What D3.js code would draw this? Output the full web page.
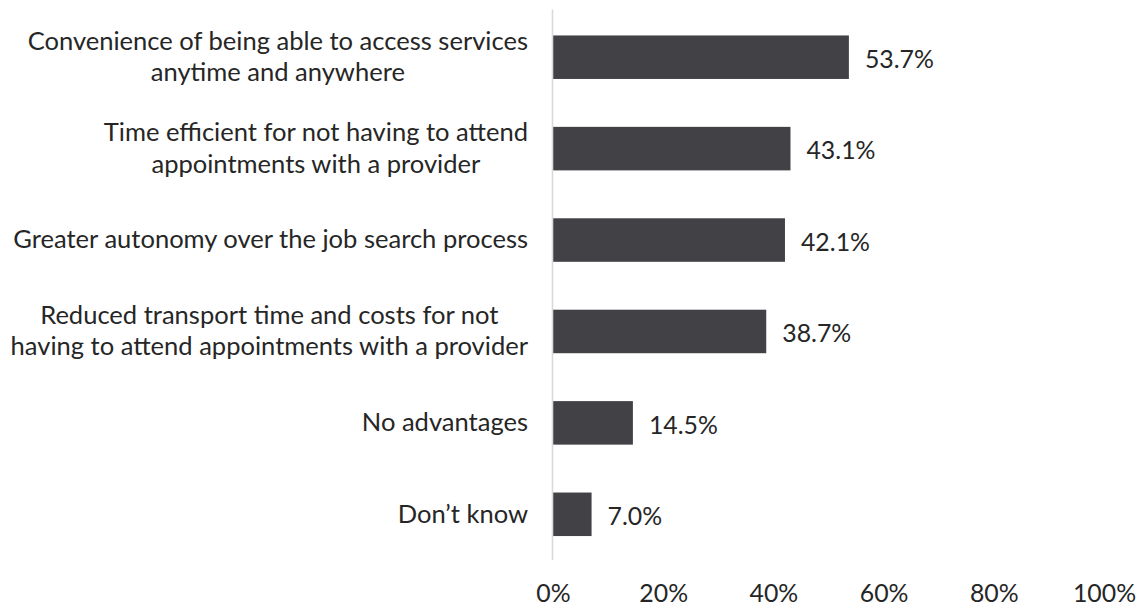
<!DOCTYPE html>
<html>
<head>
<meta charset="utf-8">
<script src="https://cdn.jsdelivr.net/npm/d3@7"></script>
<style>
  html, body { margin: 0; padding: 0; background: #ffffff; }
  svg { display: block; }
  text { font-family: Lato, "Noto Sans", sans-serif; fill: #262626; }
</style>
</head>
<body>
<svg id="chart" width="1136" height="607"></svg>
<script>
// Survey responses: perceived advantages of online employment services
const categories = [
  ["Convenience of being able to access services", "anytime and anywhere"],
  ["Time efficient for not having to attend", "appointments with a provider"],
  ["Greater autonomy over the job search process"],
  ["Reduced transport time and costs for not", "having to attend appointments with a provider"],
  ["No advantages"],
  ["Don\u2019t know"]
];
const values = [53.7, 43.1, 42.1, 38.7, 14.5, 7.0];
const tickValues = [0, 20, 40, 60, 80, 100];
const tickLabels = ["0%", "20%", "40%", "60%", "80%", "100%"];

const svg = d3.select("#chart");
const labels = categories.map(c => c.join(" "));

// Layout
const plotLeft = 553, plotRight = 1104, plotTop = 11.5, plotBottom = 560;
const labelRight = 528;

// Choose a font size so the widest single-line label spans the space left of the axis
function measure(str, size) {
  const t = svg.append("text").style("font-size", size + "px").text(str);
  const w = t.node().getComputedTextLength();
  t.remove();
  return w;
}
const catSize = 100 * 515 / measure("Greater autonomy over the job search process", 100);
const valSize = 100 * 69 / measure("53.7%", 100);

const x = d3.scaleLinear().domain([0, 100]).range([plotLeft, plotRight]);
const y = d3.scaleBand().domain(labels).range([plotTop, plotBottom])
  .paddingInner(0.524).paddingOuter(0.262);

// Bars
svg.append("g").selectAll("rect")
  .data(values)
  .join("rect")
  .attr("x", x(0))
  .attr("y", (d, i) => y(labels[i]))
  .attr("width", d => x(d) - x(0))
  .attr("height", y.bandwidth())
  .attr("fill", "#414146");

// Vertical category axis
const yAxis = svg.append("g")
  .attr("transform", `translate(${plotLeft - 0.5},0)`)
  .call(d3.axisLeft(y).tickSize(0).tickSizeOuter(0).tickFormat(""));
yAxis.select(".domain").attr("stroke", "#d9d9d9").attr("stroke-width", 1.6)
  .attr("d", `M0,${plotTop - 2}V${plotBottom}`);

// Category labels: lines centred inside a block that is right-aligned
const lineGap = catSize * 1.22;
const catG = svg.append("g").style("font-size", catSize + "px");
categories.forEach((lines, i) => {
  const cy = y(labels[i]) + y.bandwidth() / 2;
  const widths = lines.map(l => measure(l, catSize));
  const blockW = d3.max(widths);
  const cx = labelRight - blockW / 2;
  lines.forEach((l, j) => {
    const off = (j - (lines.length - 1) / 2) * lineGap;
    catG.append("text")
      .attr("x", cx)
      .attr("y", cy + off)
      .attr("dy", "0.33em")
      .attr("text-anchor", "middle")
      .text(l);
  });
});

// Value labels
svg.append("g").style("font-size", valSize + "px")
  .selectAll("text")
  .data(values)
  .join("text")
  .attr("x", d => x(d) + 16)
  .attr("y", (d, i) => y(labels[i]) + y.bandwidth() / 2 + 2)
  .attr("dy", "0.35em")
  .text(d => d.toFixed(1) + "%");

// Horizontal value axis (labels only)
const xAxis = svg.append("g")
  .attr("transform", `translate(0,${plotBottom})`)
  .call(d3.axisBottom(x).tickValues(tickValues).tickSize(0)
    .tickFormat((d, i) => tickLabels[i]).tickPadding(42 - 0.71 * valSize));
xAxis.select(".domain").remove();
xAxis.selectAll("text")
  .style("font-size", valSize + "px")
  .style("font-family", "Lato, 'Noto Sans', sans-serif")
  .attr("fill", "#262626");
</script>
</body>
</html>
